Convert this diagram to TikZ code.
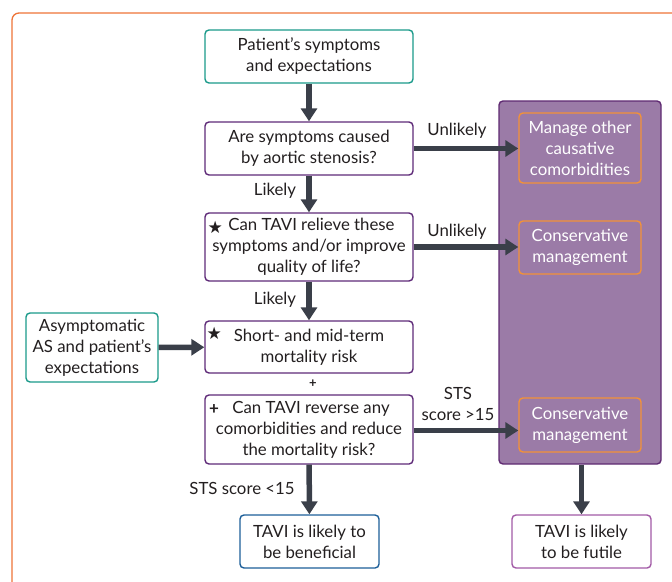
\documentclass[tikz,border=0pt]{standalone}
\usepackage{fontspec}
\setmainfont{Lato}
\newfontfamily\symfont{DejaVu Sans}
\usetikzlibrary{arrows.meta,positioning}
\definecolor{tealc}{HTML}{1A9A8A}
\definecolor{purplec}{HTML}{5E2A78}
\definecolor{bluec}{HTML}{1D5F99}
\definecolor{orangec}{HTML}{F39237}
\definecolor{framec}{HTML}{EE7337}
\definecolor{panelc}{HTML}{9B7BA7}
\definecolor{paneld}{HTML}{5F2A72}
\definecolor{futilec}{HTML}{A25AA6}
\definecolor{arrowc}{HTML}{3A3F49}
\definecolor{textc}{HTML}{231F20}
\begin{document}
\begin{tikzpicture}[x=1pt,y=-1pt,
    font=\fontsize{16.8}{21}\selectfont,text=textc,
    box/.style={draw,rounded corners=4pt,line width=1.4pt,fill=white,
      align=center,inner sep=0pt,minimum width=208pt,minimum height=53pt},
    optbox/.style={draw=orangec,rounded corners=4pt,line width=1.4pt,
      fill=panelc,text=white,align=center,inner sep=0pt,
      minimum width=122pt,minimum height=53pt},
    flow/.style={draw=arrowc,line width=5.5pt,
      -{Triangle[width=16pt,length=13pt]}},
    tag/.style={align=center,inner sep=0pt}]
  \useasboundingbox (0,0) rectangle (672,581);
  % outer frame
  \draw[framec,line width=1.3pt,rounded corners=7pt] (12,13) rectangle (700,620);

  % main column
  \node[box,draw=tealc] (pat) at (309,56.5) {Patient’s symptoms\\and expectations};
  \node[box,draw=purplec] (cause) at (309,148.5) {Are symptoms caused\\by aortic stenosis?};
  \node[box,draw=purplec,minimum height=68pt] (relieve) at (309,247)
    {\hspace*{5pt}Can TAVI relieve these\\symptoms and/or improve\\quality of life?};
  \node[box,draw=purplec,minimum height=52pt] (risk) at (309,347)
    {Short- and mid-term\\mortality risk};
  \node[box,draw=purplec,minimum height=69pt] (reverse) at (309,429.5)
    {\hspace*{4pt}Can TAVI reverse any\\comorbidities and reduce\\the mortality risk?};
  \node[box,draw=bluec,minimum width=139pt] (benef) at (309.5,541.5)
    {TAVI is likely to\\be beneficial};
  \node[box,draw=tealc,minimum width=132pt,minimum height=69pt] (asym) at (92,347.5)
    {Asymptomatic\\AS and patient’s\\expectations};

  % marks in the boxes
  \node[tag,anchor=west] at (207.5,227) {\symfont\fontsize{17}{17}\selectfont ★};
  \node[tag,anchor=west] at (206.5,333) {\symfont\fontsize{17}{17}\selectfont ★};
  \node[tag,anchor=west] at (209,410) {\bfseries\fontsize{17}{17}\selectfont +};
  \node[tag] (plus) at (313,384) {\bfseries\fontsize{13}{13}\selectfont +};

  % right panel
  \node[draw=paneld,fill=panelc,line width=1.4pt,rounded corners=4pt,
    minimum width=162pt,minimum height=363pt] (panel) at (580,282.5) {};
  \node[optbox,minimum height=70pt] (manage) at (580,148)
    {Manage other\\causative\\comorbidities};
  \node[optbox] (cons1) at (580,247.5) {Conservative\\management};
  \node[optbox,minimum height=54pt] (cons2) at (580,425) {Conservative\\management};
  \node[box,draw=futilec,minimum width=139pt] (futile) at (581.5,541.5)
    {TAVI is likely\\to be futile};

  % connectors
  \draw[flow] (pat) -- (cause);
  \draw[flow] (cause) -- (relieve);
  \draw[flow] (relieve) -- (risk);
  \draw[flow] (reverse) -- (benef);
  \draw[flow] (asym) -- (risk);
  \draw[flow] (cause.east) -- (cause.east -| manage.west);
  \draw[flow] (relieve.east) -- (relieve.east -| cons1.west);
  \draw[flow] ([yshift=-1pt]reverse.east) -- ([yshift=-1pt]reverse.east -| cons2.west);
  \draw[flow] (panel.south -| futile.north) -- (futile);

  % labels
  \node[tag] at (457,131) {Unlikely};
  \node[tag] at (275,191) {Likely};
  \node[tag] at (457,232) {Unlikely};
  \node[tag] at (275,300) {Likely};
  \node[tag] at (458,404) {STS\\score >15};
  \node[tag] at (242,488) {STS score <15};
\end{tikzpicture}
\end{document}
